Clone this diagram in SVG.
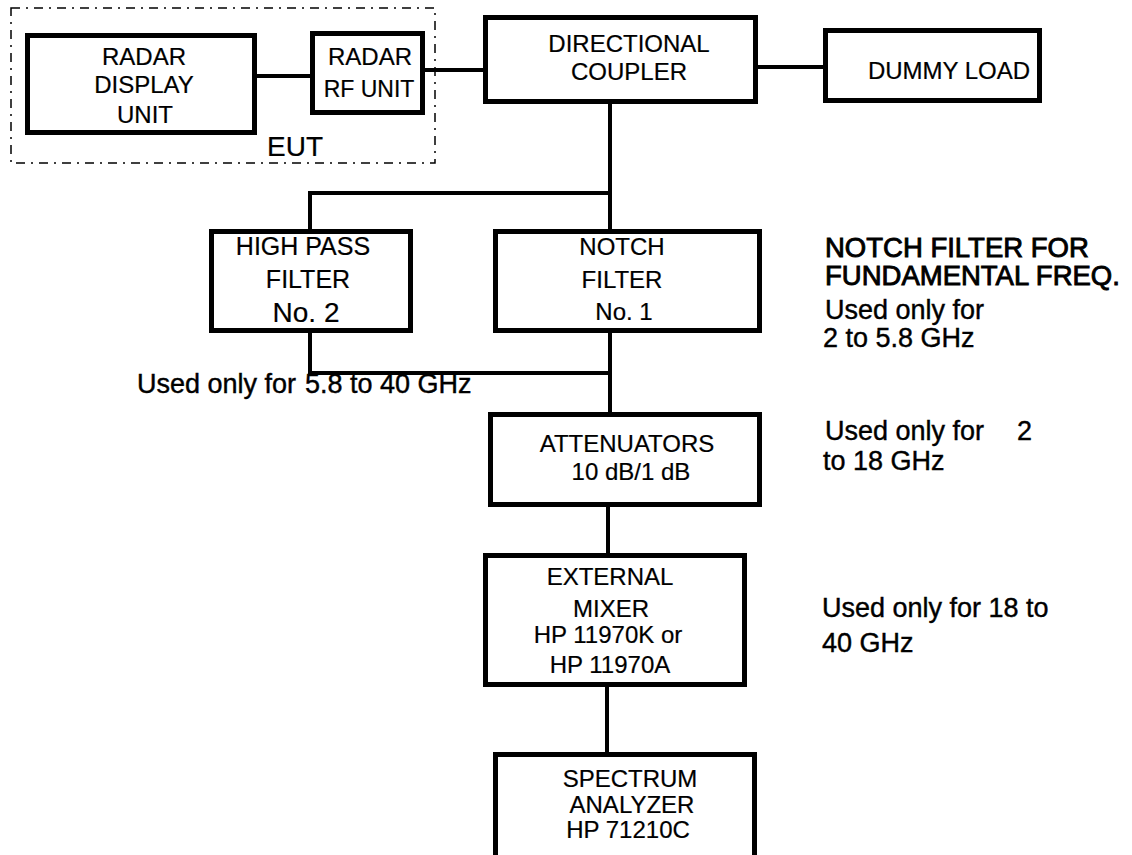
<svg xmlns="http://www.w3.org/2000/svg" width="1132" height="855" viewBox="0 0 1132 855">
<style>
.box{fill:#fff;stroke:#000;stroke-width:5}
.c{fill:none;stroke:#000;stroke-width:4}
.t{font-family:"Liberation Sans",Arial,sans-serif;font-size:24px;fill:#000;text-anchor:middle;stroke:#000;stroke-width:0.2}
.a{font-family:"Liberation Sans",Arial,sans-serif;font-size:27px;fill:#000;stroke:#000;stroke-width:0.4}
.b{stroke-width:0.9}
</style>
<rect width="1132" height="855" fill="#fff"/>
<g id="eut">
<rect x="11" y="8" width="424" height="155" fill="none" stroke="#000" stroke-width="1.5" stroke-dasharray="9 6 2 6"/>
<text class="t" x="295" y="156" style="font-size:28px">EUT</text>
</g>
<g id="connectors">
<line class="c" x1="257" y1="76" x2="310" y2="76"/>
<line class="c" x1="425" y1="70" x2="483" y2="70"/>
<line class="c" x1="758" y1="67" x2="823" y2="67"/>
<line class="c" x1="610" y1="104" x2="610" y2="229"/>
<path class="c" d="M610 193 H310 V229"/>
<path class="c" d="M310 333 V373 H610"/>
<line class="c" x1="610" y1="333" x2="610" y2="412"/>
<line class="c" x1="608" y1="507" x2="608" y2="553"/>
<line class="c" x1="607" y1="687" x2="607" y2="752"/>
</g>
<g id="radar-display">
<rect class="box" x="27.5" y="35.5" width="227" height="97"/>
<text class="t" x="144" y="65">RADAR</text>
<text class="t" x="144" y="93">DISPLAY</text>
<text class="t" x="145" y="123">UNIT</text>
</g>
<g id="radar-rf">
<rect class="box" x="312.5" y="33.5" width="110" height="79"/>
<text class="t" x="370" y="65">RADAR</text>
<text class="t" x="369" y="97" style="font-size:23px">RF UNIT</text>
</g>
<g id="coupler">
<rect class="box" x="485.5" y="17.5" width="270" height="84"/>
<text class="t" x="629" y="52">DIRECTIONAL</text>
<text class="t" x="629" y="80">COUPLER</text>
</g>
<g id="dummy-load">
<rect class="box" x="825.5" y="30.5" width="214" height="70"/>
<text class="t" x="949" y="79">DUMMY LOAD</text>
</g>
<g id="hpf">
<rect class="box" x="211.5" y="231.5" width="199" height="99"/>
<text class="t" x="303" y="255" style="font-size:25px">HIGH PASS</text>
<text class="t" x="308" y="288" style="font-size:25px">FILTER</text>
<text class="t" x="306" y="322" style="font-size:28px">No. 2</text>
</g>
<g id="notch">
<rect class="box" x="495.5" y="231.5" width="264" height="99"/>
<text class="t" x="622" y="255">NOTCH</text>
<text class="t" x="622" y="288">FILTER</text>
<text class="t" x="624" y="320">No. 1</text>
</g>
<g id="attenuators">
<rect class="box" x="490.5" y="414.5" width="269" height="90"/>
<text class="t" x="627" y="452">ATTENUATORS</text>
<text class="t" x="631" y="480">10 dB/1 dB</text>
</g>
<g id="mixer">
<rect class="box" x="485.5" y="555.5" width="259" height="129"/>
<text class="t" x="610" y="585">EXTERNAL</text>
<text class="t" x="611" y="617">MIXER</text>
<text class="t" x="608" y="643">HP 11970K or</text>
<text class="t" x="610" y="673">HP 11970A</text>
</g>
<g id="spectrum">
<rect class="box" x="495.5" y="754.5" width="259" height="140"/>
<text class="t" x="630" y="787">SPECTRUM</text>
<text class="t" x="632" y="813">ANALYZER</text>
<text class="t" x="628" y="838">HP 71210C</text>
</g>
<g id="notes">
<text class="a" x="137" y="393">Used only for<tspan x="305">5.8 to 40 GHz</tspan></text>
<text class="a b" x="825" y="257" style="font-size:27.5px">NOTCH FILTER FOR</text>
<text class="a b" x="825" y="285" style="font-size:27.5px">FUNDAMENTAL FREQ.</text>
<text class="a" x="825" y="319">Used only for</text>
<text class="a" x="823" y="347">2 to 5.8 GHz</text>
<text class="a" x="825" y="440">Used only for<tspan x="1017">2</tspan></text>
<text class="a" x="823" y="470">to 18 GHz</text>
<text class="a" x="822" y="617">Used only for 18 to</text>
<text class="a" x="822" y="652">40 GHz</text>
</g>
</svg>
